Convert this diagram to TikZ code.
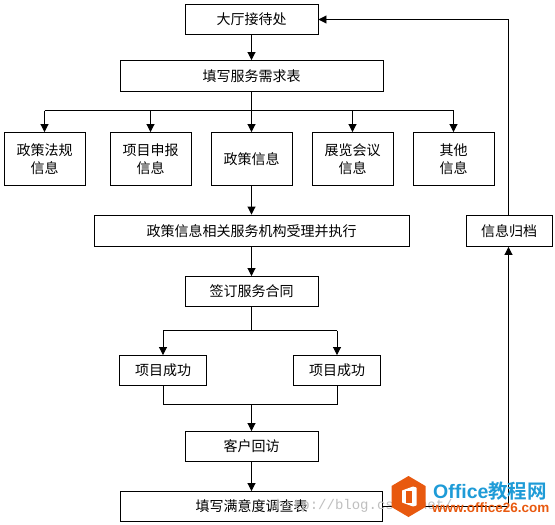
\documentclass[tikz,border=0pt]{standalone}
\usepackage{fontspec}
\setmainfont{Noto Sans CJK SC}
\newfontfamily\wmsans{Noto Sans CJK SC}[BoldFont={Noto Sans CJK SC Bold}]
\newfontfamily\wmlatin{Liberation Sans}
\newfontfamily\wmmono{Liberation Mono}
\usetikzlibrary{arrows.meta}
\definecolor{wmblue}{HTML}{1E9BD7}
\definecolor{wmorange}{HTML}{E8590F}
\tikzset{
 x=1pt,y=-1pt,
 flowbox/.style={draw=black,line width=0.9pt,fill=white,inner sep=0pt,align=center,font=\fontsize{14}{18}\selectfont},
 link/.style={draw=black,line width=0.9pt},
 arrowlink/.style={link,-{Triangle[length=8pt,width=8pt]}},
 wmtext/.style={inner sep=0pt,anchor=west},
}
\newcommand{\fbx}[6]{% name, x0,y0,x1,y1,text
 \pgfmathsetmacro{\boxcx}{(#2+#4)/2}\pgfmathsetmacro{\boxcy}{(#3+#5)/2}
 \pgfmathsetmacro{\boxw}{#4-#2}\pgfmathsetmacro{\boxh}{#5-#3}
 \node[flowbox,minimum width=\boxw pt,minimum height=\boxh pt] (#1) at (\boxcx,\boxcy) {#6};}
\begin{document}
\begin{tikzpicture}
\useasboundingbox (0,0) rectangle (555,525);
\fbx{a}{185}{4.5}{318}{34.5}{大厅接待处}
\fbx{b}{120}{60.5}{383}{91.5}{填写服务需求表}
\fbx{c1}{4}{132.5}{85}{185.5}{政策法规\\信息}
\fbx{c2}{110}{132.5}{191}{185.5}{项目申报\\信息}
\fbx{c3}{211}{132.5}{292}{185.5}{政策信息}
\fbx{c4}{312}{132.5}{393}{185.5}{展览会议\\信息}
\fbx{c5}{413}{132.5}{494}{185.5}{其他\\信息}
\fbx{d}{94}{215}{409}{246.5}{政策信息相关服务机构受理并执行}
\fbx{e}{466}{215}{552}{246.5}{信息归档}
\fbx{f}{185}{276.5}{318}{306.5}{签订服务合同}
\fbx{g1}{119.5}{355.5}{206.5}{385.5}{项目成功}
\fbx{g2}{293.5}{355.5}{380.5}{385.5}{项目成功}
\fbx{h}{185}{431.5}{318}{461.5}{客户回访}
\fbx{k}{120.5}{491.5}{382.5}{521.5}{填写满意度调查表}
\node[wmtext,text=black!25,font=\wmmono\fontsize{14}{14}\selectfont] (url) at (276,506) {http://blog.csdn.net/};
\coordinate (riser) at (508.5,0);
\draw[arrowlink] (a.south) -- (b.north);
\draw[link] (b.south) -- (251.5,110.5) coordinate (bus);
\draw[link] (c1.north |- bus) -- (c5.north |- bus);
\foreach \n in {c1,c2,c3,c4,c5}{\draw[arrowlink] (\n.north |- bus) -- (\n.north);}
\draw[arrowlink] (c3.south) -- (d.north);
\draw[arrowlink] (d.south) -- (f.north);
\draw[link] (f.south) -- (251.5,330.5) coordinate (split);
\draw[link] (g1.north |- split) -- (g2.north |- split);
\draw[arrowlink] (g1.north |- split) -- (g1.north);
\draw[arrowlink] (g2.north |- split) -- (g2.north);
\draw[link] (g1.south) |- (251.5,404.5) coordinate (merge) -| (g2.south);
\draw[arrowlink] (merge) -- (h.north);
\draw[arrowlink] (h.south) -- (k.north -| h.south);
\draw[arrowlink] (k.east) -| (riser |- e.south);
\draw[arrowlink] (riser |- e.north) |- (a.east);
% watermark
\fill[wmorange] (408.5,476) -- (425.5,486) -- (425.5,507) -- (408.5,517) -- (391.5,507) -- (391.5,486) -- cycle;
\fill[white,rounded corners=0.5pt] (402,490.5) -- (413,486.5) -- (416.5,487.5) -- (416.5,505.5) -- (413,506.5) -- (402,502.5) -- cycle;
\fill[wmorange] (405.5,490.5) rectangle (412,502.5);
\node[wmtext,text=wmblue,font=\wmlatin\bfseries\fontsize{19.5}{20}\selectfont] (wm1) at (433,491.5) {Office\wmsans\bfseries 教程网};
\node[wmtext,text=wmorange,font=\wmlatin\bfseries\fontsize{13.5}{14}\selectfont] (wm2) at (432,508) {www.office26.com};
\end{tikzpicture}
\end{document}
